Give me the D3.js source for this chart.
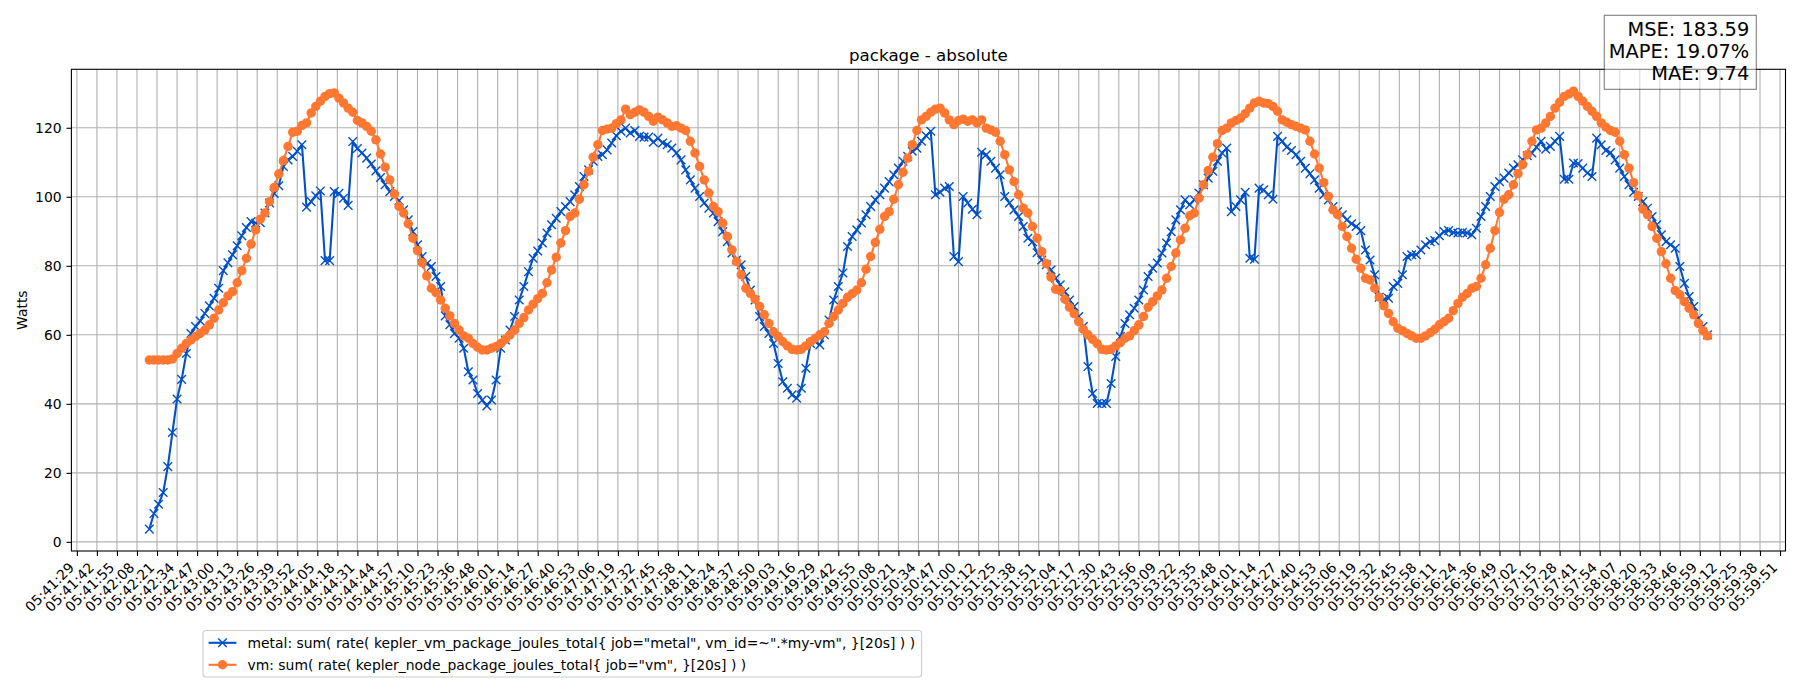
<!DOCTYPE html>
<html>
<head>
<meta charset="utf-8">
<script src="https://cdn.jsdelivr.net/npm/d3@7"></script>
<style>
  body { margin: 0; background: #fff; }
  text { font-family: "DejaVu Sans", sans-serif; fill: #000; }
</style>
</head>
<body>
<svg id="chart"></svg>
<script>
var width = 1800,
    height = 700;

var y_ticks = [0, 20, 40, 60, 80, 100, 120];

var tick_labels = [
  "05:41:29", "05:41:42", "05:41:55", "05:42:08", "05:42:21", "05:42:34", "05:42:47", "05:43:00",
  "05:43:13", "05:43:26", "05:43:39", "05:43:52", "05:44:05", "05:44:18", "05:44:31", "05:44:44",
  "05:44:57", "05:45:10", "05:45:23", "05:45:36", "05:45:48", "05:46:01", "05:46:14", "05:46:27",
  "05:46:40", "05:46:53", "05:47:06", "05:47:19", "05:47:32", "05:47:45", "05:47:58", "05:48:11",
  "05:48:24", "05:48:37", "05:48:50", "05:49:03", "05:49:16", "05:49:29", "05:49:42", "05:49:55",
  "05:50:08", "05:50:21", "05:50:34", "05:50:47", "05:51:00", "05:51:12", "05:51:25", "05:51:38",
  "05:51:51", "05:52:04", "05:52:17", "05:52:30", "05:52:43", "05:52:56", "05:53:09", "05:53:22",
  "05:53:35", "05:53:48", "05:54:01", "05:54:14", "05:54:27", "05:54:40", "05:54:53", "05:55:06",
  "05:55:19", "05:55:32", "05:55:45", "05:55:58", "05:56:11", "05:56:24", "05:56:36", "05:56:49",
  "05:57:02", "05:57:15", "05:57:28", "05:57:41", "05:57:54", "05:58:07", "05:58:20", "05:58:33",
  "05:58:46", "05:58:59", "05:59:12", "05:59:25", "05:59:38", "05:59:51"
];
var tick_start = "05:41:29",
    tick_every = 13;      // seconds between x ticks
var first_sample = "05:42:16",
    sample_every = 3;     // seconds between samples

// metal: kepler_vm_package_joules_total (Watts)
var metal = [
  3.7, 8.2, 10.9, 14.3, 21.8, 31.7, 41.4, 47.1, 54.6, 60.4,
  62.4, 64.0, 66.2, 68.4, 70.6, 73.5, 78.6, 80.9, 83.2, 85.8,
  88.7, 91.1, 92.8, 92.4, 92.5, 95.3, 98.2, 101.0, 103.2, 108.8,
  110.7, 111.7, 113.2, 115.1, 97.0, 98.6, 100.3, 101.7, 81.5, 81.5,
  101.5, 101.0, 99.6, 97.5, 116.0, 114.0, 112.7, 111.2, 109.5, 107.5,
  105.6, 103.5, 101.5, 100.1, 98.9, 96.2, 93.3, 89.9, 86.1, 82.7,
  80.6, 79.8, 76.9, 74.0, 65.5, 62.9, 60.4, 59.0, 56.1, 49.3,
  46.9, 43.0, 41.1, 39.4, 41.1, 46.9, 56.1, 58.5, 61.4, 65.3,
  70.1, 74.0, 78.3, 82.2, 84.3, 86.6, 89.5, 91.9, 93.8, 95.7,
  97.2, 98.6, 100.6, 103.0, 105.9, 107.8, 110.3, 111.7, 112.2, 113.6,
  115.6, 117.7, 119.0, 119.9, 118.5, 119.2, 117.5, 117.3, 117.3, 115.8,
  117.0, 115.6, 115.1, 114.1, 112.7, 110.7, 107.8, 104.9, 102.5, 100.1,
  98.2, 96.7, 95.3, 92.8, 89.9, 87.0, 83.7, 81.7, 80.3, 76.9,
  73.0, 70.1, 65.3, 62.4, 60.4, 57.5, 51.7, 46.4, 44.5, 42.6,
  41.6, 44.5, 50.3, 57.5, 58.0, 57.1, 60.0, 64.3, 70.1, 74.0,
  77.9, 85.6, 88.5, 90.4, 92.4, 94.8, 97.2, 99.1, 100.6, 102.5,
  104.4, 106.4, 108.3, 110.3, 111.7, 113.2, 114.1, 116.1, 117.7, 119.0,
  100.6, 101.3, 102.5, 103.0, 82.7, 81.2, 100.1, 98.2, 96.4, 94.8,
  112.9, 112.2, 110.3, 108.3, 106.4, 100.1, 98.2, 96.2, 94.3, 91.4,
  88.0, 87.0, 83.8, 81.7, 80.3, 78.8, 76.4, 74.5, 72.5, 70.1,
  68.2, 65.3, 62.4, 50.8, 43.0, 40.1, 40.1, 40.1, 45.9, 53.7,
  59.5, 63.3, 65.8, 67.7, 70.1, 73.0, 76.9, 79.3, 80.8, 83.7,
  86.6, 89.9, 93.3, 96.2, 99.1, 97.7, 99.1, 101.1, 103.5, 105.4,
  107.4, 110.3, 112.7, 114.1, 95.7, 97.2, 99.1, 101.3, 82.2, 81.9,
  102.5, 102.0, 100.6, 99.3, 117.5, 116.1, 114.4, 113.4, 112.2, 110.3,
  108.3, 106.7, 104.9, 102.5, 100.6, 99.1, 97.2, 95.7, 94.8, 93.3,
  92.2, 91.4, 90.2, 84.6, 81.7, 77.4, 70.9, 70.3, 70.6, 74.0,
  74.9, 77.4, 82.7, 83.2, 83.2, 84.6, 86.1, 87.0, 87.3, 88.7,
  89.9, 90.2, 89.7, 89.5, 89.7, 89.5, 89.0, 90.9, 94.3, 97.2,
  100.1, 103.0, 104.4, 105.4, 106.9, 108.3, 109.3, 110.7, 111.9, 112.7,
  114.4, 116.1, 113.8, 114.6, 116.1, 117.5, 105.1, 105.1, 109.8, 109.6,
  108.3, 106.9, 105.9, 117.0, 115.1, 113.4, 112.8, 110.7, 108.3, 105.9,
  103.5, 101.3, 100.1, 98.6, 96.7, 94.3, 91.9, 89.0, 87.0, 86.1,
  85.1, 79.8, 74.9, 71.1, 68.2, 64.8, 62.4, 60.0
];

// vm: kepler_node_package_joules_total (Watts)
var vm = [
  52.7, 52.7, 52.7, 52.7, 52.7, 53.0, 54.6, 56.1, 57.5, 58.5,
  59.5, 60.4, 61.4, 62.9, 64.8, 67.2, 69.3, 71.3, 72.5, 75.1,
  78.6, 82.2, 86.3, 90.4, 93.5, 95.3, 98.6, 102.7, 106.6, 110.5,
  114.6, 118.7, 119.0, 120.7, 121.4, 124.3, 126.2, 127.7, 129.1, 129.9,
  130.1, 128.6, 127.2, 125.7, 124.5, 122.1, 121.4, 120.4, 119.0, 116.5,
  112.4, 108.6, 104.9, 100.8, 97.2, 95.3, 92.2, 88.0, 84.4, 80.9,
  77.1, 73.5, 72.2, 70.1, 67.7, 65.5, 63.3, 61.4, 59.7, 59.0,
  57.5, 56.4, 55.6, 55.6, 56.1, 56.6, 57.5, 58.7, 60.0, 61.4,
  63.3, 65.0, 67.2, 68.9, 70.5, 72.0, 75.1, 78.8, 82.5, 86.6,
  90.2, 94.3, 95.3, 99.3, 103.5, 107.4, 111.5, 115.1, 119.2, 119.6,
  119.9, 121.2, 122.3, 125.4, 123.8, 124.5, 125.2, 124.5, 123.3, 121.9,
  123.1, 122.3, 121.4, 120.4, 120.6, 119.9, 119.2, 116.1, 112.7, 108.8,
  104.9, 101.1, 97.2, 95.7, 92.4, 88.5, 84.6, 81.2, 77.4, 73.5,
  72.0, 70.3, 68.2, 65.8, 63.3, 60.9, 59.5, 58.0, 56.8, 55.8,
  55.6, 55.8, 56.8, 58.0, 59.0, 60.0, 60.9, 63.3, 65.3, 67.2,
  69.1, 70.9, 71.9, 73.0, 75.1, 79.0, 82.7, 86.8, 90.6, 94.3,
  95.7, 99.3, 103.5, 107.1, 111.2, 115.1, 119.2, 122.3, 123.3, 124.5,
  125.4, 125.7, 124.3, 122.3, 120.9, 122.1, 122.5, 121.9, 122.3, 121.4,
  122.3, 119.9, 119.4, 118.7, 116.1, 112.2, 107.8, 104.4, 100.6, 96.7,
  95.3, 91.4, 88.0, 84.1, 80.6, 76.7, 73.2, 72.8, 70.3, 68.0,
  66.1, 63.8, 61.6, 60.0, 58.7, 57.4, 55.8, 55.6, 55.8, 56.8,
  57.7, 59.0, 59.7, 61.2, 62.9, 65.3, 68.0, 69.6, 71.3, 73.0,
  76.4, 79.8, 83.7, 87.5, 90.9, 94.5, 95.3, 99.6, 103.5, 107.6,
  111.5, 115.4, 119.2, 119.9, 121.4, 122.1, 122.8, 124.1, 125.7, 127.2,
  127.7, 127.2, 127.0, 126.2, 124.8, 122.3, 121.6, 120.9, 120.4, 119.9,
  119.4, 116.1, 112.4, 108.3, 104.1, 100.1, 96.2, 94.8, 91.4, 88.5,
  85.1, 81.9, 79.3, 76.4, 75.9, 73.5, 70.9, 68.4, 66.2, 63.8,
  61.9, 61.2, 60.4, 59.7, 59.0, 59.0, 59.7, 60.6, 61.6, 62.9,
  63.8, 64.8, 67.0, 69.1, 70.9, 72.0, 73.5, 74.0, 76.4, 80.3,
  85.1, 90.2, 95.5, 99.3, 100.6, 103.5, 106.7, 109.3, 112.2, 116.1,
  119.4, 119.9, 121.4, 123.3, 125.7, 127.4, 129.1, 129.8, 130.6, 129.1,
  127.7, 126.2, 124.8, 123.3, 121.4, 120.2, 119.2, 118.7, 116.1, 112.2,
  108.3, 104.1, 100.3, 96.4, 94.8, 91.4, 88.0, 84.1, 80.6, 76.4,
  72.8, 71.6, 69.6, 67.7, 65.8, 63.3, 61.2, 59.7
];

var series_names = [
  "metal: sum( rate( kepler_vm_package_joules_total{ job=\"metal\", vm_id=~\".*my-vm\", }[20s] ) )",
  "vm: sum( rate( kepler_node_package_joules_total{ job=\"vm\", }[20s] ) )"
];
var stats = ["MSE: 183.59", "MAPE: 19.07%", "MAE: 9.74"];

var blue = "#0050c8",
    orange = "#ff7730";

var plot = {left: 71.4, right: 1785.5, top: 69.3, bottom: 551};
var dot_r = 4.7,
    cross = "M-4.3,-4.3L4.3,4.3M-4.3,4.3L4.3,-4.3";

function secs(s) {
  var p = s.split(":").map(Number);
  return p[0] * 3600 + p[1] * 60 + p[2];
}

var t0 = secs(first_sample);
var times = metal.map(function(d, i) { return t0 + i * sample_every; });
var span = times[times.length - 1] - times[0];

var x = d3.scaleLinear()
  .domain([times[0] - 0.05 * span, times[times.length - 1] + 0.05 * span])
  .range([plot.left, plot.right]);

var all = metal.concat(vm),
    ymin = d3.min(all),
    ymax = d3.max(all),
    pad = 0.05 * (ymax - ymin);
var y = d3.scaleLinear()
  .domain([ymin - pad, ymax + pad])
  .range([plot.bottom, plot.top]);

var tick_times = tick_labels.map(function(d, i) { return secs(tick_start) + i * tick_every; });

var svg = d3.select("#chart").attr("width", width).attr("height", height);

// grid
var grid = svg.append("g").attr("stroke", "#b0b0b0").attr("stroke-width", 1.1);
grid.selectAll("line.v")
  .data(tick_times)
  .enter().append("line")
  .attr("x1", function(d) { return x(d); })
  .attr("x2", function(d) { return x(d); })
  .attr("y1", plot.top)
  .attr("y2", plot.bottom);
grid.selectAll("line.h")
  .data(y_ticks)
  .enter().append("line")
  .attr("x1", plot.left)
  .attr("x2", plot.right)
  .attr("y1", function(d) { return y(d); })
  .attr("y2", function(d) { return y(d); });

// axes
var xAxis = d3.axisBottom(x)
  .tickValues(tick_times)
  .tickFormat(function(d, i) { return tick_labels[i]; })
  .tickSize(4.9);
var gx = svg.append("g")
  .attr("transform", "translate(0," + plot.bottom + ")")
  .call(xAxis);
gx.select(".domain").remove();
gx.selectAll(".tick line").attr("stroke", "#000").attr("stroke-width", 1.1);
gx.selectAll(".tick text")
  .attr("font-family", "DejaVu Sans")
  .attr("font-size", 13.9)
  .attr("text-anchor", "end")
  .attr("y", null)
  .attr("dy", null)
  .attr("transform", "translate(-2.3,17.6) rotate(-45)");

var yAxis = d3.axisLeft(y)
  .tickValues(y_ticks)
  .tickSize(4.9)
  .tickPadding(4.9);
var gy = svg.append("g")
  .attr("transform", "translate(" + plot.left + ",0)")
  .call(yAxis);
gy.select(".domain").remove();
gy.selectAll(".tick line").attr("stroke", "#000").attr("stroke-width", 1.1);
gy.selectAll(".tick text")
  .attr("font-family", "DejaVu Sans")
  .attr("font-size", 13.9);

// series
var line = d3.line()
  .x(function(d, i) { return x(times[i]); })
  .y(function(d) { return y(d); });

svg.append("path")
  .datum(metal)
  .attr("fill", "none")
  .attr("stroke", blue)
  .attr("stroke-width", 2.08)
  .attr("stroke-linejoin", "round")
  .attr("d", line);
svg.append("g").selectAll("path")
  .data(metal)
  .enter().append("path")
  .attr("transform", function(d, i) { return "translate(" + x(times[i]) + "," + y(d) + ")"; })
  .attr("d", cross)
  .attr("stroke", blue)
  .attr("stroke-width", 1.4)
  .attr("fill", "none");

svg.append("path")
  .datum(vm)
  .attr("fill", "none")
  .attr("stroke", orange)
  .attr("stroke-width", 2.08)
  .attr("stroke-linejoin", "round")
  .attr("d", line);
svg.append("g").selectAll("circle")
  .data(vm)
  .enter().append("circle")
  .attr("cx", function(d, i) { return x(times[i]); })
  .attr("cy", function(d) { return y(d); })
  .attr("r", dot_r)
  .attr("fill", orange);

// frame
svg.append("rect")
  .attr("x", plot.left)
  .attr("y", plot.top)
  .attr("width", plot.right - plot.left)
  .attr("height", plot.bottom - plot.top)
  .attr("fill", "none")
  .attr("stroke", "#000")
  .attr("stroke-width", 1.1);

// title and y label
svg.append("text")
  .attr("x", (plot.left + plot.right) / 2)
  .attr("y", 61)
  .attr("text-anchor", "middle")
  .attr("font-size", 16.7)
  .text("package - absolute");
svg.append("text")
  .attr("transform", "translate(26.5," + (plot.top + plot.bottom) / 2 + ") rotate(-90)")
  .attr("text-anchor", "middle")
  .attr("font-size", 13.9)
  .text("Watts");

// stats box
svg.append("rect")
  .attr("x", 1604.3)
  .attr("y", 15.3)
  .attr("width", 152)
  .attr("height", 74)
  .attr("fill", "#fff")
  .attr("fill-opacity", 0.5)
  .attr("stroke", "#000")
  .attr("stroke-opacity", 0.5)
  .attr("stroke-width", 1.1);
svg.append("g").selectAll("text")
  .data(stats)
  .enter().append("text")
  .attr("x", 1749.3)
  .attr("y", function(d, i) { return 36 + i * 22; })
  .attr("text-anchor", "end")
  .attr("font-size", 19.4)
  .text(function(d) { return d; });

// legend
var legend = svg.append("g");
legend.append("rect")
  .attr("x", 203)
  .attr("y", 630.5)
  .attr("width", 718.6)
  .attr("height", 46.5)
  .attr("rx", 3)
  .attr("fill", "#fff")
  .attr("fill-opacity", 0.8)
  .attr("stroke", "#cccccc")
  .attr("stroke-width", 1.1);
var item = legend.selectAll("g.item")
  .data(series_names)
  .enter().append("g")
  .attr("transform", function(d, i) { return "translate(0," + (642.8 + i * 22) + ")"; });
item.append("line")
  .attr("x1", 208.6).attr("x2", 236.4)
  .attr("stroke", function(d, i) { return i ? orange : blue; })
  .attr("stroke-width", 2.08);
item.filter(function(d, i) { return i === 0; }).append("path")
  .attr("transform", "translate(222.5,0)")
  .attr("d", cross)
  .attr("stroke", blue)
  .attr("stroke-width", 1.4);
item.filter(function(d, i) { return i === 1; }).append("circle")
  .attr("cx", 222.5)
  .attr("r", dot_r)
  .attr("fill", orange);
item.append("text")
  .attr("x", 247.5)
  .attr("y", 5)
  .attr("font-size", 13.9)
  .text(function(d) { return d; });
</script>
</body>
</html>
